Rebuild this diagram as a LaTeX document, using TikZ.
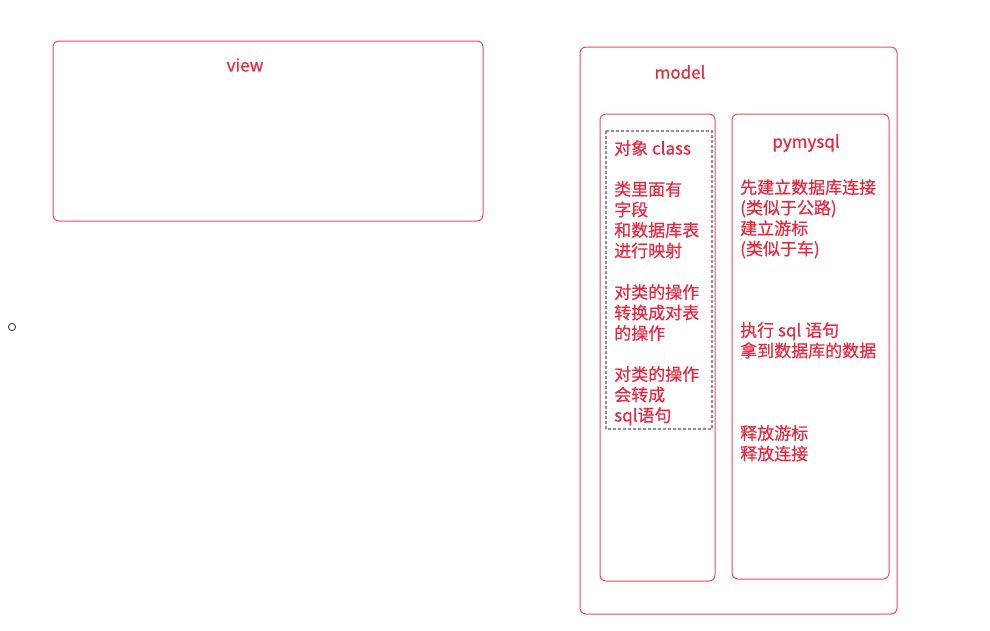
\documentclass[tikz,border=0pt]{standalone}
\usepackage{fontspec}
\setmainfont{Noto Sans CJK SC}[FakeBold=0.6]
\definecolor{rd}{HTML}{EE4A5E}
\definecolor{tx}{HTML}{E8283F}
\definecolor{dg}{HTML}{8E8CA6}
\begin{document}
\begin{tikzpicture}[x=1pt,y=-1pt,
  box/.style={draw=rd,line width=1pt,rounded corners=6pt},
  lbl/.style={text=tx,font=\fontsize{17}{20.5}\selectfont,inner sep=0pt,align=left,anchor=north west}]
\useasboundingbox (0,0) rectangle (990,630);
\draw[box] (53,41) rectangle (483,221);
\node[lbl,anchor=center] (view) at (245,65) {view};
\draw[box] (580,47) rectangle (897,614);
\node[lbl,anchor=center] (model) at (680,72) {model};
\draw[box] (600,114) rectangle (715,581);
\draw[box] (732,114) rectangle (889,579);
\draw[draw=dg,dash pattern=on 3pt off 2pt,line width=1.4pt] (606,131) rectangle (712,429);
\draw[black!75,line width=0.9pt] (12,327) circle (3.6);
\node[lbl] (a1) at (614,140) {对象 class};
\node[lbl] (a2) at (614,181) {类里面有\\字段\\和数据库表\\进行映射};
\node[lbl] (a3) at (614,284) {对类的操作\\转换成对表\\的操作};
\node[lbl] (a4) at (614,366) {对类的操作\\会转成\\sql语句};
\node[lbl,anchor=center] (py) at (806,143) {pymysql};
\node[lbl] (b1) at (740,179) {先建立数据库连接\\(类似于公路)\\建立游标\\(类似于车)};
\node[lbl] (b2) at (740,322) {执行 sql 语句\\拿到数据库的数据};
\node[lbl] (b3) at (740,425) {释放游标\\释放连接};
\end{tikzpicture}
\end{document}
